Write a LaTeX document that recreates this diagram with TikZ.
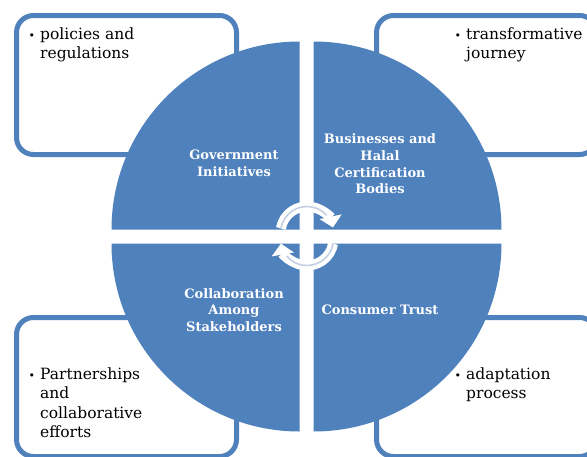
\documentclass[tikz,border=0pt]{standalone}
\usepackage{fontspec}
\usetikzlibrary{arrows.meta}
\newfontfamily\notefont{DejaVu Serif}
\definecolor{accent}{RGB}{79,129,189}
\definecolor{arrowcore}{RGB}{196,208,226}
\begin{document}
\begin{tikzpicture}[x=1pt,y=-1pt,
  cornerbox/.style={draw=accent, line width=5pt, rounded corners=17pt, fill=white,
    rectangle, minimum width=220pt, minimum height=139pt, inner sep=0pt},
  quarter/.style={fill=accent},
  note/.style={anchor=base west, font=\notefont\fontsize{15.5}{19.5}\selectfont, align=left,
    inner sep=0pt, text=black},
  title/.style={font=\notefont\bfseries\fontsize{13}{16.7}\selectfont, text=white,
    align=center, inner sep=0pt},
  cyclearrow/.style={draw=white, line width=10pt, -{Triangle[width=22pt,length=11pt]}},
  cyclecore/.style={draw=arrowcore, line width=1.6pt}]
\useasboundingbox (0,0) rectangle (587,456);
\clip (0,0) rectangle (587,456);

% rounded frames behind the circle
\node[cornerbox] (govbox) at (126.5,85) {};
\node[cornerbox] (busbox) at (486.5,85) {};
\node[cornerbox] (colbox) at (126.5,387) {};
\node[cornerbox] (conbox) at (486.5,387) {};

% bullet notes inside the frames (base anchor sits on the last line)
\newcommand{\bul}{\llap{\fontsize{11}{11}\selectfont •\hspace{5pt}}}
\node[note] (govnote) at (40,58.8) {\bul policies and\\regulations};
\node[note] (busnote) at (466,58.8) {\bul transformative\\journey};
\node[note] (colnote) at (40,437.5) {\bul Partnerships\\and\\collaborative\\efforts};
\node[note] (connote) at (466,398.5) {\bul adaptation\\process};

% four quarter discs
\fill[quarter] (299.5,229.5) -- ++(-188,0) arc[start angle=180,end angle=270,radius=188] -- cycle;
\fill[quarter] (313.5,229.5) -- ++(0,-188) arc[start angle=270,end angle=360,radius=188] -- cycle;
\fill[quarter] (313.5,243.5) -- ++(188,0) arc[start angle=0,end angle=90,radius=188] -- cycle;
\fill[quarter] (299.5,243.5) -- ++(0,188) arc[start angle=90,end angle=180,radius=188] -- cycle;

% quarter titles
\node[title] (gov) at (234,163) {Government\\Initiatives};
\node[title] (bus) at (380,164) {Businesses and\\Halal\\Certification\\Bodies};
\node[title] (col) at (234,310) {Collaboration\\Among\\Stakeholders};
\node[title] (con) at (380,310) {Consumer Trust};

% cycle arrows in the middle
\coordinate (topstart) at (280.9,228.4);
\coordinate (botstart) at (333.1,243.6);
\draw[cyclearrow] (topstart) arc[start angle=190,end angle=348,radius=26.5];
\draw[cyclecore] (topstart) arc[start angle=190,end angle=318,radius=26.5];
\draw[cyclearrow] (botstart) arc[start angle=10,end angle=170,radius=26.5];
\draw[cyclecore] (botstart) arc[start angle=10,end angle=140,radius=26.5];
\end{tikzpicture}
\end{document}
